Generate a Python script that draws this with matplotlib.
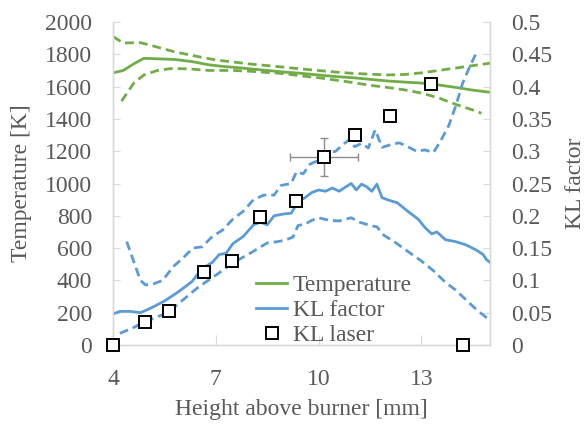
import numpy as np
import matplotlib.pyplot as plt
from matplotlib.lines import Line2D

plt.rcParams['font.family'] = ['Liberation Serif', 'DejaVu Serif']

# temperature (left axis) - mean and upper/lower bounds
t_x = [4.0, 4.3, 4.6, 4.9, 5.3, 5.8, 6.3, 6.8, 7.2, 7.6, 8.0, 8.5, 9.0, 9.5,
       10.0, 10.5, 11.0, 11.5, 12.0, 12.5, 13.0, 13.5, 14.0, 14.5, 15.0]
t_mean = [1685, 1700, 1740, 1775, 1772, 1768, 1755, 1735, 1725, 1718, 1710, 1700,
          1690, 1682, 1672, 1662, 1655, 1645, 1635, 1628, 1622, 1610, 1595, 1578, 1565]
tu_x = [4.0, 4.3, 4.8, 5.2, 5.8, 6.5, 7.0, 8.0, 9.0, 9.5, 10.5, 11.0, 12.0,
        12.5, 13.0, 13.5, 14.0, 14.5, 15.0]
t_upper = [1910, 1870, 1872, 1850, 1815, 1785, 1765, 1740, 1720, 1709, 1690, 1682,
           1672, 1675, 1685, 1700, 1715, 1730, 1745]
tl_x = [4.25, 4.6, 4.9, 5.3, 5.7, 6.2, 6.8, 7.5, 8.0, 9.0, 9.5, 10.0, 10.5, 11.0,
        11.5, 12.0, 12.5, 13.0, 13.5, 14.0, 14.5, 14.75]
t_lower = [1510, 1620, 1672, 1700, 1712, 1710, 1700, 1700, 1695, 1680, 1666, 1655,
           1640, 1625, 1608, 1595, 1580, 1560, 1530, 1490, 1455, 1435]

# KL factor (right axis)
k_x = [4.0, 4.2, 4.5, 4.8, 5.1, 5.5, 5.9, 6.3, 6.6, 6.9, 7.1, 7.3, 7.5, 7.8, 8.1,
       8.3, 8.5, 8.7, 9.0, 9.2, 9.4, 9.6, 9.8, 10.0, 10.2, 10.4, 10.6, 10.8, 10.95,
       11.1, 11.25, 11.4, 11.55, 11.7, 11.85, 12.0, 12.3, 12.6, 12.9, 13.1, 13.3,
       13.45, 13.7, 14.0, 14.3, 14.6, 14.8, 14.9, 15.0]
kl_mean = [0.048, 0.052, 0.052, 0.050, 0.057, 0.068, 0.082, 0.098, 0.118, 0.128,
           0.140, 0.142, 0.157, 0.168, 0.186, 0.190, 0.186, 0.200, 0.203, 0.204,
           0.222, 0.228, 0.236, 0.240, 0.238, 0.243, 0.238, 0.245, 0.250, 0.240,
           0.249, 0.245, 0.238, 0.249, 0.228, 0.225, 0.220, 0.207, 0.195, 0.182,
           0.172, 0.175, 0.163, 0.160, 0.155, 0.147, 0.140, 0.132, 0.128]
ku_x = [4.4, 4.6, 4.8, 4.95, 5.2, 5.45, 5.75, 6.05, 6.33, 6.6, 6.9, 7.2, 7.5, 7.8,
        8.1, 8.4, 8.7, 8.9, 9.2, 9.35, 9.55, 9.75, 10.0, 10.2, 10.5, 10.7, 10.9,
        11.05, 11.25, 11.45, 11.65, 11.85, 12.1, 12.35, 12.6, 12.85, 13.1, 13.35,
        13.55, 13.8, 14.0, 14.2, 14.4, 14.6]
kl_upper = [0.160, 0.130, 0.100, 0.093, 0.095, 0.100, 0.121, 0.135, 0.150, 0.152,
            0.168, 0.178, 0.195, 0.207, 0.225, 0.232, 0.232, 0.247, 0.250, 0.268,
            0.265, 0.280, 0.286, 0.296, 0.300, 0.310, 0.318, 0.307, 0.312, 0.305,
            0.333, 0.306, 0.310, 0.313, 0.307, 0.300, 0.302, 0.298, 0.315, 0.340,
            0.370, 0.405, 0.430, 0.452]
kll_x = [4.2, 4.6, 4.93, 5.6, 6.0, 6.5, 7.0, 7.5, 8.0, 8.5, 8.8, 9.0, 9.25, 9.4,
         9.6, 9.8, 10.0, 10.3, 10.6, 10.95, 11.2, 11.5, 11.7, 11.9, 12.2, 12.6,
         13.0, 13.35, 13.7, 14.0, 14.3, 14.6, 15.0]
kl_lower = [0.018, 0.027, 0.036, 0.050, 0.068, 0.090, 0.108, 0.127, 0.142, 0.158,
            0.160, 0.162, 0.167, 0.185, 0.187, 0.193, 0.197, 0.193, 0.192, 0.197,
            0.190, 0.185, 0.183, 0.170, 0.160, 0.145, 0.130, 0.115, 0.097, 0.085,
            0.070, 0.055, 0.038]

# laser measurements
laser_x = [4.0, 4.93, 5.63, 6.65, 7.47, 8.28, 9.33, 10.15, 11.05, 12.07, 13.27, 14.2]
laser_kl = [0.0, 0.0356, 0.0526, 0.113, 0.130, 0.198, 0.223, 0.291, 0.325, 0.354, 0.404, 0.0]
err_x = 10.15
err_y = 0.291
err_dx = 1.0
err_dy = 0.03

green = '#70ad47'
blue = '#5b9bd5'
txt = '#595959'
grid = '#d9d9d9'
dash = (3.2, 1.8)
fs = 17

fig = plt.figure(figsize=(5.86, 4.26), dpi=100)
ax = fig.add_axes([113/586, 81/426, 377/586, 323/426])
ax2 = ax.twinx()

ax.plot(t_x, t_mean, color=green, lw=2.0)
ax.plot(tu_x, t_upper, color=green, lw=2.0, ls=(0, dash))
ax.plot(tl_x, t_lower, color=green, lw=2.0, ls=(0, dash))

ax2.plot(k_x, kl_mean, color=blue, lw=2.0)
ax2.plot(ku_x, kl_upper, color=blue, lw=2.0, ls=(0, dash))
ax2.plot(kll_x, kl_lower, color=blue, lw=2.0, ls=(0, dash))

ax2.errorbar([err_x], [err_y], xerr=[err_dx], yerr=[err_dy], fmt='none',
             ecolor='#8c8c8c', elinewidth=1, capsize=3, capthick=1)
ax2.plot(laser_x, laser_kl, ls='none', marker='s', ms=8, mfc='white',
         mec='black', mew=1.4, clip_on=False, zorder=5)

ax.set_xlim(4, 15)
ax.set_ylim(0, 2000)
ax2.set_ylim(0, 0.5)
ax.set_xticks([4, 7, 10, 13])
ax.set_yticks(np.arange(0, 2001, 200))
ax2.set_yticks(np.arange(0, 0.51, 0.05))
ax2.set_yticklabels(['0', '0.05', '0.1', '0.15', '0.2', '0.25', '0.3', '0.35',
                     '0.4', '0.45', '0.5'])

for a in (ax, ax2):
    a.spines['top'].set_visible(False)
    for s in ('left', 'right', 'bottom'):
        a.spines[s].set_color(grid)
        a.spines[s].set_linewidth(1.0)
    a.tick_params(colors=grid, labelcolor=txt, labelsize=fs, direction='in', length=5)
ax.tick_params(axis='y', pad=15)
ax.tick_params(axis='x', pad=17, length=7)
ax2.tick_params(axis='y', pad=15)

ax.set_xlabel('Height above burner [mm]', fontsize=fs, color=txt, labelpad=7)
ax.set_ylabel('Temperature [K]', fontsize=fs, color=txt)
ax2.set_ylabel('KL factor', fontsize=fs, color=txt)
ax.yaxis.set_label_coords(-0.215, 0.5)
ax2.yaxis.set_label_coords(1.2, 0.5)

handles = [Line2D([], [], color=green, lw=2.0),
           Line2D([], [], color=blue, lw=2.0),
           Line2D([], [], ls='none', marker='s', ms=8, mfc='white', mec='black', mew=1.4)]
leg = ax2.legend(handles, ['Temperature', 'KL factor', 'KL laser'], loc='center',
                 bbox_to_anchor=(0.57, 0.272), bbox_transform=fig.transFigure,
                 frameon=False, fontsize=fs, labelspacing=0.15, handlelength=1.3,
                 handletextpad=0.25, borderpad=0)
for t in leg.get_texts():
    t.set_color(txt)

fig.savefig('out.png', dpi=100)
